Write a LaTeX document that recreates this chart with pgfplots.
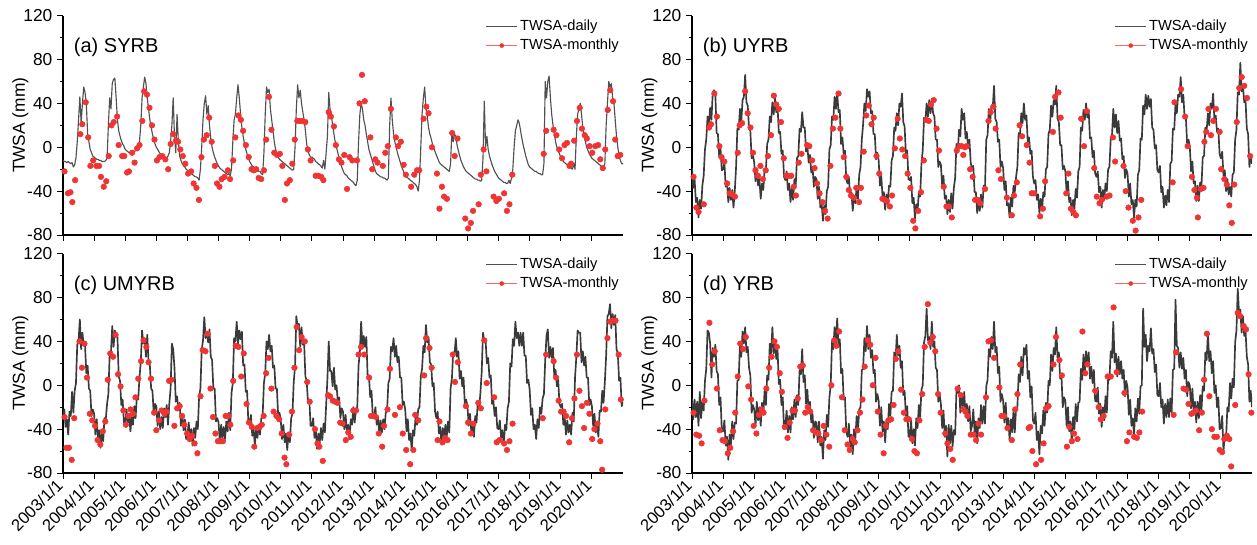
\documentclass[border=0pt]{standalone}
\usepackage{fontspec}
\setmainfont{Liberation Sans}
\usepackage{pgfplots}
\usepackage{pgfplotstable}
\pgfplotsset{compat=1.18}
\definecolor{dgray}{RGB}{58,58,58}
\definecolor{lgray}{RGB}{80,80,80}
\definecolor{mred}{RGB}{240,52,52}

% ---------- daily series (half-month steps from 2003/1/1) ----------
\pgfplotstableread[row sep=\\]{y\\
-12\\-13\\-13\\-14\\-13\\-14\\-15\\-14\\-18\\-16\\-10\\5\\25\\46\\22\\40\\55\\50\\40\\12\\5\\-2\\-5\\-8\\
-9\\-10\\-11\\-11\\-12\\-12\\-13\\-13\\-13\\-12\\-10\\20\\45\\35\\58\\62\\63\\45\\25\\15\\10\\6\\3\\1\\
-2\\-3\\-4\\-5\\-5\\-5\\-5\\-4\\-3\\-2\\0\\5\\20\\45\\55\\64\\58\\45\\35\\25\\18\\12\\7\\3\\
0\\-2\\-4\\-6\\-7\\-8\\-9\\-10\\-10\\-8\\-5\\5\\20\\45\\10\\-5\\30\\5\\-8\\-12\\-15\\-17\\-18\\-20\\
-21\\-22\\-23\\-24\\-25\\-26\\-27\\-27\\-28\\-30\\-20\\0\\25\\40\\47\\30\\38\\20\\8\\0\\-5\\-9\\-12\\-15\\
-17\\-19\\-20\\-21\\-22\\-23\\-24\\-25\\-24\\-26\\-20\\5\\25\\30\\45\\57\\45\\30\\18\\10\\3\\-2\\-6\\-10\\
-13\\-15\\-17\\-18\\-19\\-20\\-21\\-22\\-22\\-24\\-25\\-5\\30\\55\\50\\53\\35\\25\\15\\5\\-2\\-6\\-9\\-11\\
-12\\-13\\-14\\-15\\-16\\-17\\-18\\-19\\-20\\-21\\-20\\0\\35\\57\\45\\52\\40\\32\\25\\15\\3\\-3\\-7\\-9\\
-9\\-10\\-11\\-13\\-14\\-15\\-16\\-17\\-19\\-12\\-20\\-5\\10\\50\\35\\30\\20\\12\\5\\0\\-5\\-10\\-14\\-18\\
-21\\-24\\-25\\-26\\-28\\-29\\-30\\-31\\-32\\-34\\-35\\-30\\5\\30\\40\\35\\25\\20\\12\\5\\-2\\-6\\-10\\-14\\
-18\\-22\\-24\\-25\\-26\\-27\\-27\\-28\\-28\\-29\\-30\\-28\\20\\45\\25\\12\\5\\0\\-5\\-9\\-13\\-17\\-20\\-23\\
-25\\-27\\-28\\-29\\-30\\-31\\-32\\-33\\-34\\-36\\-40\\-30\\0\\30\\45\\55\\35\\28\\18\\12\\8\\3\\0\\-4\\
-7\\-10\\-13\\-15\\-16\\-17\\-18\\-19\\-20\\-21\\-22\\-15\\15\\5\\12\\10\\2\\-3\\-8\\-12\\-15\\-18\\-20\\-22\\
-23\\-24\\-25\\-26\\-27\\-28\\-29\\-29\\-30\\-30\\-31\\-30\\-10\\42\\0\\10\\-2\\-8\\-12\\-16\\-19\\-22\\-24\\-26\\
-28\\-29\\-30\\-31\\-32\\-32\\-33\\-33\\-30\\-33\\-28\\-20\\0\\15\\20\\25\\22\\15\\8\\2\\-3\\-8\\-12\\-16\\
-18\\-19\\-20\\-21\\-22\\-22\\-23\\-24\\-24\\-25\\-25\\-15\\60\\45\\60\\65\\45\\30\\20\\12\\5\\0\\-3\\-6\\
-9\\-11\\-13\\-14\\-15\\-16\\-17\\-18\\-19\\-20\\-15\\-20\\10\\30\\35\\40\\30\\18\\10\\5\\0\\-3\\-6\\-8\\
-10\\-11\\-12\\-13\\-14\\-15\\-16\\-17\\-18\\-18\\-15\\20\\40\\60\\55\\58\\45\\40\\25\\10\\0\\-8\\-12\\-15\\
-15\\}\SYRBd

\pgfplotstableread[row sep=\\]{y\\
-19\\-37\\-29\\-50\\-46\\-64\\-48\\-56\\-35\\-26\\-2\\7\\28\\20\\36\\25\\50\\52\\49\\13\\12\\-9\\-1\\-21\\
-20\\-14\\-36\\-31\\-50\\-37\\-48\\-39\\-55\\-40\\-18\\17\\16\\35\\23\\43\\46\\66\\41\\38\\17\\15\\-10\\-7\\
-14\\-31\\-19\\-35\\-29\\-47\\-33\\-39\\-20\\-21\\3\\7\\28\\23\\41\\30\\45\\32\\37\\13\\14\\-6\\-3\\-27\\
-30\\-22\\-39\\-33\\-50\\-37\\-48\\-29\\-35\\-10\\-8\\17\\14\\32\\18\\18\\-4\\1\\-14\\-7\\-23\\-18\\-36\\-27\\
-29\\-47\\-36\\-55\\-51\\-67\\-53\\-61\\-40\\-36\\-2\\2\\28\\25\\46\\35\\50\\32\\34\\3\\9\\-6\\-3\\-29\\
-33\\-27\\-46\\-41\\-58\\-44\\-51\\-36\\-47\\-25\\-18\\7\\21\\40\\33\\53\\46\\51\\31\\33\\12\\12\\-11\\-5\\
-12\\-35\\-26\\-45\\-41\\-57\\-43\\-52\\-35\\-36\\-12\\-8\\18\\15\\31\\20\\40\\37\\49\\23\\19\\-6\\-3\\-29\\
-30\\-27\\-51\\-46\\-65\\-52\\-58\\-41\\-45\\-15\\-3\\27\\24\\40\\28\\43\\31\\44\\31\\28\\7\\7\\-18\\-13\\
-16\\-35\\-26\\-47\\-44\\-61\\-48\\-59\\-42\\-56\\-37\\-28\\3\\-5\\16\\10\\35\\25\\31\\8\\14\\-1\\7\\-14\\
-20\\-17\\-41\\-41\\-60\\-49\\-58\\-43\\-55\\-35\\-38\\7\\11\\35\\23\\38\\36\\56\\26\\23\\5\\7\\-18\\-13\\
-19\\-39\\-31\\-53\\-51\\-64\\-46\\-54\\-35\\-41\\-27\\-18\\13\\10\\31\\22\\40\\25\\29\\5\\9\\-6\\-3\\-27\\
-33\\-30\\-48\\-43\\-60\\-47\\-58\\-41\\-45\\-20\\-18\\12\\16\\38\\28\\43\\39\\56\\26\\23\\2\\2\\-20\\-17\\
-22\\-42\\-31\\-50\\-46\\-62\\-48\\-56\\-38\\-46\\-22\\-18\\18\\15\\34\\25\\40\\27\\34\\8\\9\\-9\\-3\\-24\\
-27\\-22\\-41\\-36\\-55\\-39\\-48\\-33\\-40\\-20\\-18\\7\\11\\35\\18\\30\\13\\24\\6\\8\\-11\\-8\\-28\\-20\\
-24\\-45\\-33\\-52\\-48\\-64\\-48\\-54\\-25\\-21\\8\\7\\38\\30\\48\\35\\47\\37\\44\\18\\16\\-1\\2\\-21\\
-23\\-17\\-41\\-36\\-55\\-44\\-53\\-39\\-50\\-15\\-13\\17\\16\\40\\31\\48\\46\\64\\41\\48\\27\\27\\2\\7\\
1\\-22\\-13\\-33\\-31\\-49\\-35\\-49\\-32\\-36\\-9\\-8\\18\\15\\31\\20\\40\\35\\49\\25\\29\\14\\17\\-6\\
-10\\-4\\-26\\-21\\-40\\-29\\-43\\-36\\-45\\-25\\-23\\7\\16\\50\\48\\77\\51\\56\\41\\43\\17\\12\\-18\\-7\\
-15\\}\UYRBd

\pgfplotstableread[row sep=\\]{y\\
-30\\-22\\-38\\-31\\-45\\-24\\-28\\-6\\-25\\-5\\2\\37\\41\\60\\33\\48\\36\\36\\11\\18\\-3\\-5\\-28\\-22\\
-26\\-45\\-31\\-48\\-41\\-57\\-43\\-51\\-30\\-31\\-17\\-8\\28\\30\\54\\35\\50\\45\\44\\8\\4\\-18\\-13\\-34\\
-35\\-22\\-34\\-26\\-42\\-29\\-36\\-19\\-30\\-10\\-13\\7\\21\\50\\38\\43\\26\\46\\21\\18\\-3\\-5\\-26\\-17\\
-19\\-37\\-24\\-40\\-29\\-39\\-21\\-29\\-18\\-36\\-17\\-3\\38\\33\\16\\-15\\-10\\-23\\-16\\-37\\-28\\-41\\-31\\-49\\
-45\\-34\\-49\\-40\\-55\\-39\\-48\\-33\\-40\\-10\\-3\\32\\41\\62\\43\\48\\39\\51\\26\\23\\-3\\-3\\-33\\-30\\
-34\\-52\\-36\\-48\\-38\\-49\\-33\\-42\\-25\\-41\\-7\\2\\43\\40\\58\\38\\50\\42\\49\\18\\19\\-6\\-5\\-34\\
-35\\-27\\-46\\-39\\-55\\-39\\-48\\-36\\-45\\-30\\-28\\2\\11\\40\\33\\46\\31\\36\\16\\18\\-3\\-3\\-28\\-25\\
-32\\-49\\-36\\-52\\-44\\-59\\-43\\-52\\-30\\-26\\3\\17\\63\\53\\56\\35\\53\\37\\39\\8\\4\\-16\\-13\\-37\\
-37\\-30\\-48\\-41\\-58\\-44\\-53\\-39\\-50\\-35\\-43\\-18\\6\\40\\13\\13\\-1\\16\\-4\\0\\-15\\-11\\-30\\-21\\
-24\\-40\\-27\\-43\\-36\\-49\\-31\\-36\\-20\\-34\\-22\\-20\\18\\30\\58\\35\\45\\35\\44\\8\\9\\-11\\-5\\-29\\
-29\\-20\\-36\\-29\\-45\\-32\\-43\\-31\\-40\\-25\\-23\\2\\6\\35\\31\\43\\26\\36\\21\\26\\7\\7\\-18\\-15\\
-22\\-42\\-31\\-50\\-44\\-59\\-41\\-46\\-28\\-36\\-22\\-20\\8\\15\\36\\30\\55\\39\\44\\21\\19\\-1\\2\\-24\\
-30\\-24\\-44\\-38\\-54\\-39\\-48\\-36\\-47\\-33\\-43\\-3\\6\\30\\28\\43\\26\\31\\6\\13\\-1\\7\\-18\\-13\\
-19\\-37\\-26\\-43\\-36\\-47\\-28\\-34\\-15\\-21\\-7\\12\\48\\40\\41\\20\\25\\7\\9\\-17\\-14\\-28\\-20\\-39\\
-40\\-32\\-48\\-41\\-55\\-36\\-41\\-21\\-15\\20\\17\\42\\36\\58\\43\\48\\36\\48\\36\\48\\27\\27\\2\\5\\
-4\\-27\\-21\\-40\\-36\\-49\\-31\\-39\\-20\\-26\\-12\\-8\\23\\45\\51\\25\\35\\25\\34\\8\\14\\-1\\5\\-17\\
-20\\-17\\-36\\-29\\-45\\-32\\-43\\-36\\-45\\-25\\-33\\7\\26\\50\\48\\48\\21\\31\\18\\26\\7\\7\\-18\\-13\\
-19\\-37\\-26\\-43\\-36\\-47\\-23\\-24\\-5\\-16\\3\\27\\63\\65\\74\\52\\65\\55\\64\\33\\29\\4\\7\\-19\\
-15\\}\UMYRBd

\pgfplotstableread[row sep=\\]{y\\
-12\\-31\\-13\\-29\\-15\\-37\\-6\\-30\\-15\\-23\\4\\15\\50\\48\\38\\7\\34\\26\\37\\13\\10\\-18\\-11\\-42\\
-42\\-32\\-55\\-47\\-68\\-45\\-54\\-33\\-49\\-34\\-35\\4\\5\\38\\26\\49\\38\\53\\30\\35\\16\\9\\-25\\-18\\
-22\\-37\\-15\\-32\\-20\\-37\\-16\\-27\\-5\\-18\\9\\5\\38\\28\\53\\29\\41\\24\\32\\1\\5\\-18\\-11\\-40\\
-37\\-23\\-43\\-28\\-43\\-20\\-31\\-13\\-29\\-9\\-18\\14\\10\\33\\3\\9\\-17\\-4\\-25\\-15\\-34\\-26\\-48\\-33\\
-34\\-52\\-33\\-55\\-47\\-67\\-41\\-50\\-27\\-38\\-11\\0\\40\\33\\53\\37\\61\\36\\42\\11\\15\\-13\\-11\\-42\\
-47\\-35\\-56\\-45\\-63\\-40\\-49\\-28\\-42\\-22\\-20\\14\\15\\43\\31\\54\\33\\46\\25\\32\\11\\14\\-15\\-8\\
-14\\-37\\-20\\-42\\-33\\-52\\-31\\-40\\-17\\-28\\-6\\-5\\30\\23\\46\\27\\36\\16\\22\\-9\\-5\\-28\\-19\\-47\\
-47\\-32\\-53\\-40\\-55\\-30\\-39\\-18\\-29\\-4\\0\\39\\45\\70\\41\\44\\33\\58\\35\\40\\16\\14\\-15\\-8\\
-17\\-39\\-23\\-47\\-37\\-65\\-36\\-53\\-37\\-56\\-41\\-45\\-5\\-7\\0\\-25\\-9\\-19\\-6\\-29\\-17\\-33\\-19\\-42\\
-37\\-22\\-43\\-33\\-53\\-30\\-39\\-18\\-35\\-19\\-35\\-1\\5\\33\\26\\44\\33\\58\\30\\35\\11\\17\\-15\\-8\\
-14\\-34\\-16\\-39\\-30\\-50\\-31\\-43\\-23\\-43\\-21\\-20\\10\\3\\26\\9\\34\\28\\37\\6\\13\\-11\\-1\\-32\\
-35\\-25\\-50\\-42\\-63\\-37\\-44\\-23\\-37\\-16\\-25\\4\\0\\28\\13\\34\\28\\53\\25\\30\\6\\9\\-20\\-11\\
-14\\-37\\-20\\-42\\-33\\-52\\-29\\-40\\-17\\-33\\-16\\-15\\15\\5\\28\\9\\31\\18\\30\\6\\17\\2\\14\\-14\\
-15\\-2\\-26\\-17\\-38\\-20\\-32\\-10\\-25\\6\\5\\31\\25\\58\\21\\29\\8\\26\\10\\22\\6\\14\\-10\\4\\
-2\\-27\\-13\\-37\\-30\\-45\\-21\\-33\\-12\\-26\\-1\\0\\70\\35\\46\\22\\36\\31\\52\\29\\33\\12\\19\\-9\\
-10\\2\\-20\\-13\\-35\\-17\\-29\\-13\\-29\\-12\\-25\\14\\15\\78\\36\\34\\16\\30\\15\\25\\6\\14\\-10\\3\\
0\\-21\\-3\\-25\\-15\\-34\\-15\\-30\\-9\\-23\\-1\\-5\\30\\23\\48\\22\\31\\11\\22\\-7\\0\\-20\\-11\\-40\\
-39\\-28\\-60\\-45\\-48\\-20\\-24\\2\\-12\\6\\-2\\39\\50\\88\\66\\69\\48\\63\\45\\50\\26\\19\\-15\\-5\\
-20\\}\YRBd

% ---------- monthly series ----------
\pgfplotstableread[row sep=\\]{x y\\
2003.05 -22\\2003.16 -42\\2003.24 -41\\2003.30 -50\\2003.39 -30\\2003.56 12\\2003.62 21\\2003.73 41\\2003.81 9\\2003.88 -17\\2003.97 -12\\
2004.07 -17\\2004.16 -17\\2004.22 -27\\2004.31 -36\\2004.39 -31\\2004.47 -8\\2004.56 20\\2004.63 23\\2004.74 28\\2004.79 2\\2004.90 -8\\2004.97 -8\\
2005.06 -23\\2005.12 -22\\2005.22 -5\\2005.30 -14\\2005.38 -1\\2005.46 2\\2005.55 24\\2005.61 51\\2005.70 48\\2005.78 36\\2005.86 20\\2005.94 7\\
2006.02 -12\\2006.10 -9\\2006.19 -8\\2006.29 -11\\2006.38 -20\\2006.46 3\\2006.54 12\\2006.63 6\\2006.70 5\\2006.77 -2\\2006.85 -8\\2006.93 -15\\
2007.02 -24\\2007.12 -22\\2007.20 -33\\2007.29 -37\\2007.37 -48\\2007.45 -9\\2007.53 7\\2007.62 11\\2007.70 27\\2007.78 5\\2007.88 -17\\2007.95 -33\\
2008.03 -36\\2008.10 -29\\2008.19 -27\\2008.30 -21\\2008.37 -29\\2008.47 -12\\2008.54 9\\2008.64 29\\2008.72 25\\2008.79 15\\2008.88 2\\2008.97 -9\\
2009.06 -20\\2009.13 -21\\2009.21 -20\\2009.29 -28\\2009.37 -29\\2009.46 -21\\2009.53 7\\2009.62 46\\2009.70 16\\2009.79 -5\\2009.88 -7\\2009.97 -6\\
2010.05 -17\\2010.13 -48\\2010.20 -33\\2010.29 -30\\2010.37 -15\\2010.45 7\\2010.53 24\\2010.61 24\\2010.69 24\\2010.79 23\\2010.87 -2\\2010.96 -12\\
2011.12 -26\\2011.21 -26\\2011.30 -27\\2011.37 -30\\2011.54 32\\2011.61 28\\2011.71 19\\2011.77 2\\2011.87 -11\\2011.95 -14\\
2012.04 -7\\2012.13 -38\\2012.21 -9\\2012.30 -12\\2012.45 -12\\2012.53 40\\2012.61 66\\2012.70 42\\2012.88 9\\2012.94 -20\\
2013.04 -11\\2013.11 -14\\2013.28 -17\\2013.36 -5\\2013.44 1\\2013.54 35\\2013.70 9\\2013.77 1\\2013.86 5\\2013.95 -16\\
2014.02 -25\\2014.19 -36\\2014.29 -25\\2014.38 -21\\2014.45 -21\\2014.59 26\\2014.68 37\\2014.75 31\\2014.86 0\\
2015.02 -24\\2015.10 -56\\2015.18 -36\\2015.25 -45\\2015.34 -47\\2015.51 13\\2015.59 -8\\2015.68 8\\2015.93 -65\\
2016.02 -74\\2016.11 -69\\2016.18 -58\\2016.36 -52\\2016.43 -25\\2016.52 -2\\2016.61 -22\\2016.84 -45\\2016.93 -49\\
2017.01 -47\\2017.18 -42\\2017.27 -58\\2017.35 -52\\2017.44 -25\\
2018.45 -6\\2018.53 15\\2018.77 16\\2018.86 11\\2018.95 -2\\
2019.04 -10\\2019.12 2\\2019.20 4\\2019.28 -17\\2019.33 -15\\2019.43 6\\2019.52 24\\2019.61 36\\2019.68 17\\2019.77 11\\2019.84 8\\2019.93 1\\
2020.01 -5\\2020.11 1\\2020.20 2\\2020.27 -11\\2020.35 -19\\2020.43 -2\\2020.51 34\\2020.59 52\\2020.68 42\\2020.75 7\\2020.83 -8\\2020.91 -7\\
}\SYRBm

\pgfplotstableread[row sep=\\]{x y\\
2003.05 -27\\2003.14 -55\\2003.21 -59\\2003.38 -52\\2003.55 18\\2003.61 21\\2003.72 49\\2003.80 28\\2003.88 1\\2003.95 -9\\
2004.04 -13\\2004.13 -33\\2004.21 -42\\2004.29 -43\\2004.38 -45\\2004.47 -5\\2004.53 20\\2004.61 22\\2004.71 51\\2004.79 31\\2004.88 18\\2004.96 -5\\
2005.04 -21\\2005.12 -26\\2005.20 -17\\2005.28 -29\\2005.37 -21\\2005.44 -8\\2005.54 11\\2005.63 47\\2005.71 39\\2005.79 35\\2005.86 23\\2005.95 -10\\
2006.03 -26\\2006.12 -26\\2006.19 -26\\2006.27 -36\\2006.34 -44\\2006.43 -14\\2006.52 -6\\2006.70 2\\2006.77 1\\2006.86 -12\\2006.94 -19\\
2007.02 -33\\2007.10 -42\\2007.19 -50\\2007.28 -58\\2007.36 -65\\2007.45 -17\\2007.53 17\\2007.61 27\\2007.71 49\\2007.77 17\\2007.88 -9\\2007.96 -27\\
2008.04 -39\\2008.11 -44\\2008.20 -46\\2008.28 -37\\2008.37 -50\\2008.43 -37\\2008.52 -4\\2008.60 29\\2008.68 38\\2008.77 21\\2008.84 27\\2008.93 -8\\
2009.02 -24\\2009.12 -47\\2009.19 -48\\2009.27 -49\\2009.36 -54\\2009.43 -44\\2009.52 -1\\2009.61 26\\2009.68 8\\2009.76 -2\\2009.85 -8\\2009.93 -24\\
2010.02 -37\\2010.11 -67\\2010.18 -74\\2010.27 -58\\2010.36 -41\\2010.45 -12\\2010.53 25\\2010.61 24\\2010.68 39\\2010.77 43\\2010.86 17\\2010.94 -3\\
2011.09 -36\\2011.18 -54\\2011.26 -54\\2011.35 -64\\2011.51 -3\\2011.60 1\\2011.67 1\\2011.72 -7\\2011.77 0\\2011.83 1\\2011.94 -20\\
2012.02 -27\\2012.10 -48\\2012.19 -48\\2012.26 -51\\2012.42 -38\\2012.53 24\\2012.60 32\\2012.69 37\\2012.76 17\\2012.85 -21\\2012.93 -29\\
2013.12 -46\\2013.28 -62\\2013.35 -44\\2013.44 -32\\2013.53 20\\2013.61 10\\2013.76 2\\2013.85 -14\\2013.92 -42\\2013.99 -42\\
2014.19 -63\\2014.28 -56\\2014.35 -31\\2014.60 14\\2014.67 46\\2014.78 50\\2014.85 27\\
2015.03 -42\\2015.10 -24\\2015.18 -56\\2015.26 -59\\2015.34 -62\\2015.51 26\\2015.60 1\\2015.69 33\\2015.93 -19\\
2016.01 -45\\2016.10 -51\\2016.17 -48\\2016.33 -45\\2016.42 -44\\2016.53 9\\2016.60 -13\\2016.87 -17\\2016.94 -40\\
2017.03 -55\\2017.17 -67\\2017.26 -76\\2017.35 -64\\2017.44 -48\\
2018.45 -32\\2018.51 41\\2018.72 53\\2018.85 28\\2018.93 1\\
2019.07 -27\\2019.15 -39\\2019.23 -46\\2019.26 -64\\2019.36 -38\\2019.44 -37\\2019.47 5\\2019.53 14\\2019.60 35\\2019.68 11\\2019.76 24\\2019.84 35\\2019.96 14\\
2020.01 -20\\2020.11 -29\\2020.19 -34\\2020.27 -53\\2020.35 -69\\2020.43 -34\\2020.51 23\\2020.59 54\\2020.67 64\\2020.75 56\\2020.84 45\\2020.94 -8\\
}\UYRBm

\pgfplotstableread[row sep=\\]{x y\\
2003.05 -29\\2003.11 -57\\2003.19 -57\\2003.28 -68\\2003.36 -30\\2003.53 40\\2003.61 16\\2003.69 38\\2003.77 7\\2003.86 -26\\2003.94 -32\\
2004.03 -37\\2004.11 -50\\2004.20 -54\\2004.28 -42\\2004.36 -33\\2004.44 5\\2004.52 29\\2004.61 26\\2004.69 46\\2004.77 10\\2004.85 -1\\2004.94 -23\\
2005.02 -36\\2005.10 -28\\2005.17 -22\\2005.25 -26\\2005.33 -11\\2005.42 6\\2005.51 22\\2005.59 41\\2005.68 35\\2005.75 21\\2005.83 6\\2005.93 -25\\
2006.00 -41\\2006.09 -32\\2006.17 -23\\2006.26 -26\\2006.33 -24\\2006.41 4\\2006.49 5\\2006.58 -37\\2006.67 -21\\2006.75 -19\\2006.83 -28\\2006.90 -36\\2006.99 -44\\
2007.07 -49\\2007.15 -46\\2007.23 -53\\2007.32 -62\\2007.42 -10\\2007.49 32\\2007.58 31\\2007.65 47\\2007.74 -3\\2007.82 -29\\2007.90 -44\\2007.98 -51\\
2008.06 -51\\2008.14 -51\\2008.23 -28\\2008.31 -28\\2008.38 -36\\2008.47 4\\2008.55 36\\2008.64 35\\2008.73 8\\2008.81 29\\2008.90 -17\\2008.98 -34\\
2009.07 -38\\2009.15 -56\\2009.24 -39\\2009.32 -38\\2009.39 -36\\2009.45 -28\\2009.53 11\\2009.61 25\\2009.70 -3\\2009.77 -24\\2009.86 -28\\2009.95 -31\\
2010.03 -44\\2010.12 -66\\2010.18 -72\\2010.27 -45\\2010.36 -24\\2010.44 16\\2010.51 53\\2010.59 32\\2010.67 44\\2010.77 40\\2010.85 3\\2010.93 -15\\
2011.10 -40\\2011.18 -53\\2011.24 -56\\2011.35 -69\\2011.52 -9\\2011.58 -10\\2011.67 -14\\2011.75 -15\\2011.82 -16\\2011.91 -34\\2011.99 -35\\
2012.09 -50\\2012.17 -43\\2012.25 -47\\2012.33 -23\\2012.42 -23\\2012.50 28\\2012.58 35\\2012.68 28\\2012.84 7\\2012.90 -28\\2012.98 -28\\
2013.06 -29\\2013.15 -44\\2013.26 -56\\2013.32 -37\\2013.43 -22\\2013.51 15\\2013.67 -27\\2013.83 -20\\2013.92 -44\\
2014.03 -59\\2014.16 -72\\2014.26 -59\\2014.32 -27\\2014.42 -32\\2014.61 9\\2014.67 43\\2014.78 34\\2014.85 16\\
2015.04 -50\\2015.10 -33\\2015.20 -52\\2015.28 -48\\2015.36 -50\\2015.53 28\\2015.60 3\\2015.69 21\\2015.95 -19\\
2016.02 -34\\2016.11 -44\\2016.19 -35\\2016.35 -16\\2016.43 -21\\2016.54 41\\2016.62 2\\2016.86 -11\\2016.94 -52\\
2017.03 -50\\2017.18 -53\\2017.27 -59\\2017.35 -51\\2017.45 -35\\
2018.42 -30\\2018.53 28\\2018.77 22\\2018.85 7\\2018.93 -14\\
2019.01 -24\\2019.09 -24\\2019.17 -28\\2019.27 -52\\2019.36 -30\\2019.44 -12\\2019.52 28\\2019.60 -5\\2019.68 -19\\2019.75 -39\\2019.84 -16\\2019.92 -26\\
2020.01 -49\\2020.08 -40\\2020.18 -35\\2020.27 -51\\2020.33 -77\\2020.43 -22\\2020.50 43\\2020.59 58\\2020.67 59\\2020.76 59\\2020.86 28\\2020.93 -13\\
}\UMYRBm

\pgfplotstableread[row sep=\\]{x y\\
2003.05 -25\\2003.14 -45\\2003.23 -46\\2003.31 -53\\2003.40 -14\\2003.56 57\\2003.65 19\\2003.73 31\\2003.80 -3\\2003.89 -41\\2003.98 -50\\
2004.06 -51\\2004.15 -62\\2004.23 -57\\2004.32 -42\\2004.39 -25\\2004.47 8\\2004.55 38\\2004.64 33\\2004.73 44\\2004.81 -1\\2004.90 -13\\2004.98 -37\\
2005.07 -44\\2005.15 -27\\2005.24 -22\\2005.30 -25\\2005.39 -3\\2005.48 16\\2005.56 26\\2005.65 40\\2005.73 35\\2005.82 11\\2005.89 -6\\2005.98 -38\\
2006.07 -48\\2006.14 -34\\2006.23 -23\\2006.31 -23\\2006.40 -12\\2006.48 17\\2006.56 18\\2006.64 -25\\2006.72 -20\\2006.80 -24\\2006.89 -41\\2006.98 -43\\
2007.06 -44\\2007.15 -50\\2007.23 -37\\2007.32 -45\\2007.41 -56\\2007.48 0\\2007.57 41\\2007.64 36\\2007.73 49\\2007.82 -11\\2007.91 -41\\
2008.00 -54\\2008.07 -59\\2008.16 -49\\2008.23 -52\\2008.32 -41\\2008.40 -25\\2008.48 -13\\2008.55 17\\2008.65 41\\2008.73 37\\2008.81 0\\2008.90 25\\2008.97 -24\\
2009.06 -45\\2009.16 -62\\2009.23 -37\\2009.32 -32\\2009.40 -31\\2009.48 -18\\2009.55 24\\2009.63 31\\2009.72 -4\\2009.81 -25\\2009.89 -31\\2009.97 -31\\
2010.07 -49\\2010.15 -60\\2010.23 -62\\2010.31 -32\\2010.40 -8\\2010.48 35\\2010.58 74\\2010.66 39\\2010.74 44\\2010.82 31\\2010.91 -8\\2010.99 -25\\
2011.14 -44\\2011.21 -53\\2011.30 -58\\2011.38 -68\\2011.54 -3\\2011.64 -9\\2011.72 -22\\2011.79 -24\\2011.86 -28\\2011.96 -45\\
2012.05 -45\\2012.13 -50\\2012.21 -35\\2012.29 -45\\2012.45 -11\\2012.53 40\\2012.61 41\\2012.71 25\\2012.88 -2\\2012.95 -28\\
2013.03 -28\\2013.14 -39\\2013.28 -50\\2013.39 -22\\2013.46 -8\\2013.55 19\\2013.82 -39\\2013.87 -38\\2013.94 -60\\
2014.06 -72\\2014.22 -68\\2014.30 -53\\2014.38 -21\\2014.46 -19\\2014.62 19\\2014.70 44\\2014.81 23\\2014.89 9\\
2015.05 -56\\2015.13 -38\\2015.21 -51\\2015.28 -44\\2015.39 -49\\2015.55 49\\2015.64 11\\2015.71 19\\2015.96 -5\\
2016.07 -20\\2016.14 -31\\2016.23 -28\\2016.36 8\\2016.46 8\\2016.55 71\\2016.65 12\\2016.90 -7\\2016.98 -51\\
2017.06 -43\\2017.21 -47\\2017.30 -48\\2017.38 -43\\2017.47 -24\\
2018.48 -27\\2018.56 30\\2018.80 -3\\2018.88 -4\\2018.96 -17\\
2019.05 -26\\2019.12 -25\\2019.20 -23\\2019.30 -41\\2019.39 -25\\2019.46 5\\2019.55 47\\2019.63 -10\\2019.71 -40\\2019.79 -47\\2019.87 -47\\2019.96 -59\\
2020.04 -61\\2020.11 -49\\2020.19 -46\\2020.27 -49\\2020.33 -74\\2020.46 -18\\2020.54 66\\2020.62 63\\2020.73 54\\2020.81 51\\2020.89 10\\2020.98 -25\\
}\YRBm

\pgfplotsset{
  panel/.style={
    scale only axis, width=420pt, height=164.5pt,
    xmin=2003, xmax=2021, ymin=-80, ymax=120,
    axis x line*=bottom, axis y line*=left,
    axis line style={line width=0.8pt, -},
    xtick={2003,2004,...,2020},
    ytick={-80,-40,0,40,80,120},
    minor ytick={-60,-20,20,60,100},
    tick align=outside,
    major tick length=4.5pt, minor tick length=2.5pt,
    every tick/.style={black, line width=0.7pt},
    /pgf/number format/assume math mode=true,
    yticklabel style={font=\fontsize{13}{14}\selectfont},
    ylabel={TWSA (mm)},
    ylabel style={at={(axis description cs:-0.076,0.5)}, anchor=center, font=\fontsize{13}{14}\selectfont},
    legend style={draw=none, fill=none, at={(1,1)}, anchor=north east,
      font=\fontsize{11}{12}\selectfont, inner sep=1pt, row sep=1pt},
    legend cell align=left,
  },
  toppanel/.style={panel, xticklabels={}},
  botpanel/.style={panel,
    xticklabels={2003/1/1,2004/1/1,2005/1/1,2006/1/1,2007/1/1,2008/1/1,2009/1/1,2010/1/1,2011/1/1,2012/1/1,2013/1/1,2014/1/1,2015/1/1,2016/1/1,2017/1/1,2018/1/1,2019/1/1,2020/1/1},
    xticklabel style={rotate=45, anchor=east, font=\fontsize{12.5}{13}\selectfont},
  },
  dailyline/.style={dgray, line width=1.25pt, line join=round, no markers,
    legend image code/.code={\draw[lgray, line width=0.6pt] (0pt,0pt) -- (23pt,0pt);}},
  smoothdaily/.style={lgray, line width=0.85pt, line join=round, no markers,
    legend image code/.code={\draw[lgray, line width=0.6pt] (0pt,0pt) -- (23pt,0pt);}},
  monthly/.style={only marks, mark=*, mark size=2.1pt, mark options={draw=mred, fill=mred},
    legend image code/.code={\draw[mred!75, line width=0.4pt] (0pt,0pt) -- (23pt,0pt); \fill[mred] (11.5pt,0pt) circle (1.5pt);}},
}

\begin{document}
\begin{tikzpicture}
\useasboundingbox (0,0) rectangle (942.75pt,408pt);

\begin{axis}[toppanel, at={(47.25pt,231.75pt)}, anchor=south west]
\addplot[smoothdaily] table[x expr=2003+\coordindex/24, y index=0] {\SYRBd};
\addplot[monthly] table[x=x, y=y] {\SYRBm};
\legend{TWSA-daily, TWSA-monthly}
\node[anchor=west, font=\fontsize{15}{16}\selectfont] at (axis cs:2003.2,91) {(a) SYRB};
\end{axis}

\begin{axis}[toppanel, at={(519pt,231.75pt)}, anchor=south west]
\addplot[dailyline] table[x expr=2003+\coordindex/24, y index=0] {\UYRBd};
\addplot[monthly] table[x=x, y=y] {\UYRBm};
\legend{TWSA-daily, TWSA-monthly}
\node[anchor=west, font=\fontsize{15}{16}\selectfont] at (axis cs:2003.2,91) {(b) UYRB};
\end{axis}

\begin{axis}[botpanel, at={(47.25pt,53.25pt)}, anchor=south west]
\addplot[dailyline] table[x expr=2003+\coordindex/24, y index=0] {\UMYRBd};
\addplot[monthly] table[x=x, y=y] {\UMYRBm};
\legend{TWSA-daily, TWSA-monthly}
\node[anchor=west, font=\fontsize{15}{16}\selectfont] at (axis cs:2003.2,91) {(c) UMYRB};
\end{axis}

\begin{axis}[botpanel, at={(519pt,53.25pt)}, anchor=south west]
\addplot[dailyline] table[x expr=2003+\coordindex/24, y index=0] {\YRBd};
\addplot[monthly] table[x=x, y=y] {\YRBm};
\legend{TWSA-daily, TWSA-monthly}
\node[anchor=west, font=\fontsize{15}{16}\selectfont] at (axis cs:2003.2,91) {(d) YRB};
\end{axis}
\end{tikzpicture}
\end{document}
